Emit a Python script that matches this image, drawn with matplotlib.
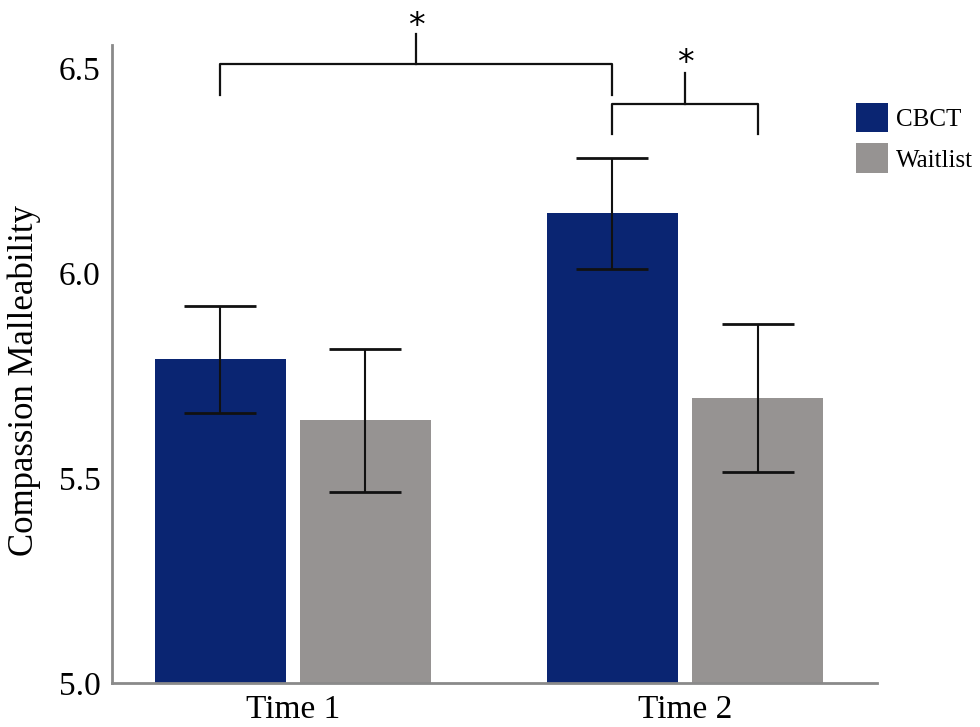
import matplotlib
matplotlib.use('Agg')
import matplotlib.pyplot as plt
import numpy as np

groups = ['Time 1', 'Time 2']
series = ['CBCT', 'Waitlist']
cbct_mean = [5.79, 6.146]
cbct_err = [0.13, 0.135]
wait_mean = [5.641, 5.695]
wait_err = [0.175, 0.18]

colors = ['#0a2572', '#969392']

plt.rcParams['font.family'] = ['Liberation Serif', 'DejaVu Serif']

fig = plt.figure(figsize=(9.8, 7.27), dpi=100)
ax = fig.add_axes([0.114, 0.0605, 0.781, 0.877])

x = np.arange(len(groups))
w = 0.334
off = 0.185
ekw = dict(ecolor='#111111', elinewidth=1.5, capsize=26, capthick=2)
ax.bar(x - off, np.array(cbct_mean) - 5, w, bottom=5, color=colors[0],
       yerr=cbct_err, error_kw=ekw, label=series[0])
ax.bar(x + off, np.array(wait_mean) - 5, w, bottom=5, color=colors[1],
       yerr=wait_err, error_kw=ekw, label=series[1])

ax.set_xlim(-0.462, 1.49)
ax.set_ylim(5.0, 6.556)
ax.set_yticks([5.0, 5.5, 6.0, 6.5])
ax.set_yticklabels(['5.0', '5.5', '6.0', '6.5'])
ax.set_xticks(x)
ax.set_xticklabels(groups)
ax.tick_params(axis='both', length=0, labelsize=24, pad=8)
ax.set_ylabel('Compassion Malleability', fontsize=25)
ax.yaxis.set_label_coords(-0.092, 0.475)

for s in ['top', 'right']:
    ax.spines[s].set_visible(False)
for s in ['left', 'bottom']:
    ax.spines[s].set_color('#8a8a8a')
    ax.spines[s].set_linewidth(2)

# significance brackets
def bracket(x1, x2, y, drop, rise, star_y):
    xm = (x1 + x2) / 2
    ax.plot([x1, x1, x2, x2], [y - drop, y, y, y - drop], color='#111111',
            lw=1.6, clip_on=False)
    ax.plot([xm, xm], [y, y + rise], color='#111111', lw=1.6, clip_on=False)
    ax.text(xm, star_y, '*', ha='center', va='center', fontsize=24,
            family='DejaVu Sans', clip_on=False)

bracket(x[0] - off, x[1] - off, 6.510, 0.076, 0.075, 6.603)
bracket(x[1] - off, x[1] + off, 6.412, 0.073, 0.076, 6.512)

fig.legend(loc='upper left', bbox_to_anchor=(0.873, 0.859), frameon=False,
           fontsize=18, handlelength=1.3, handleheight=1.45,
           labelspacing=0.45, handletextpad=0.3, borderpad=0, borderaxespad=0)

fig.savefig('out.png', dpi=100)
